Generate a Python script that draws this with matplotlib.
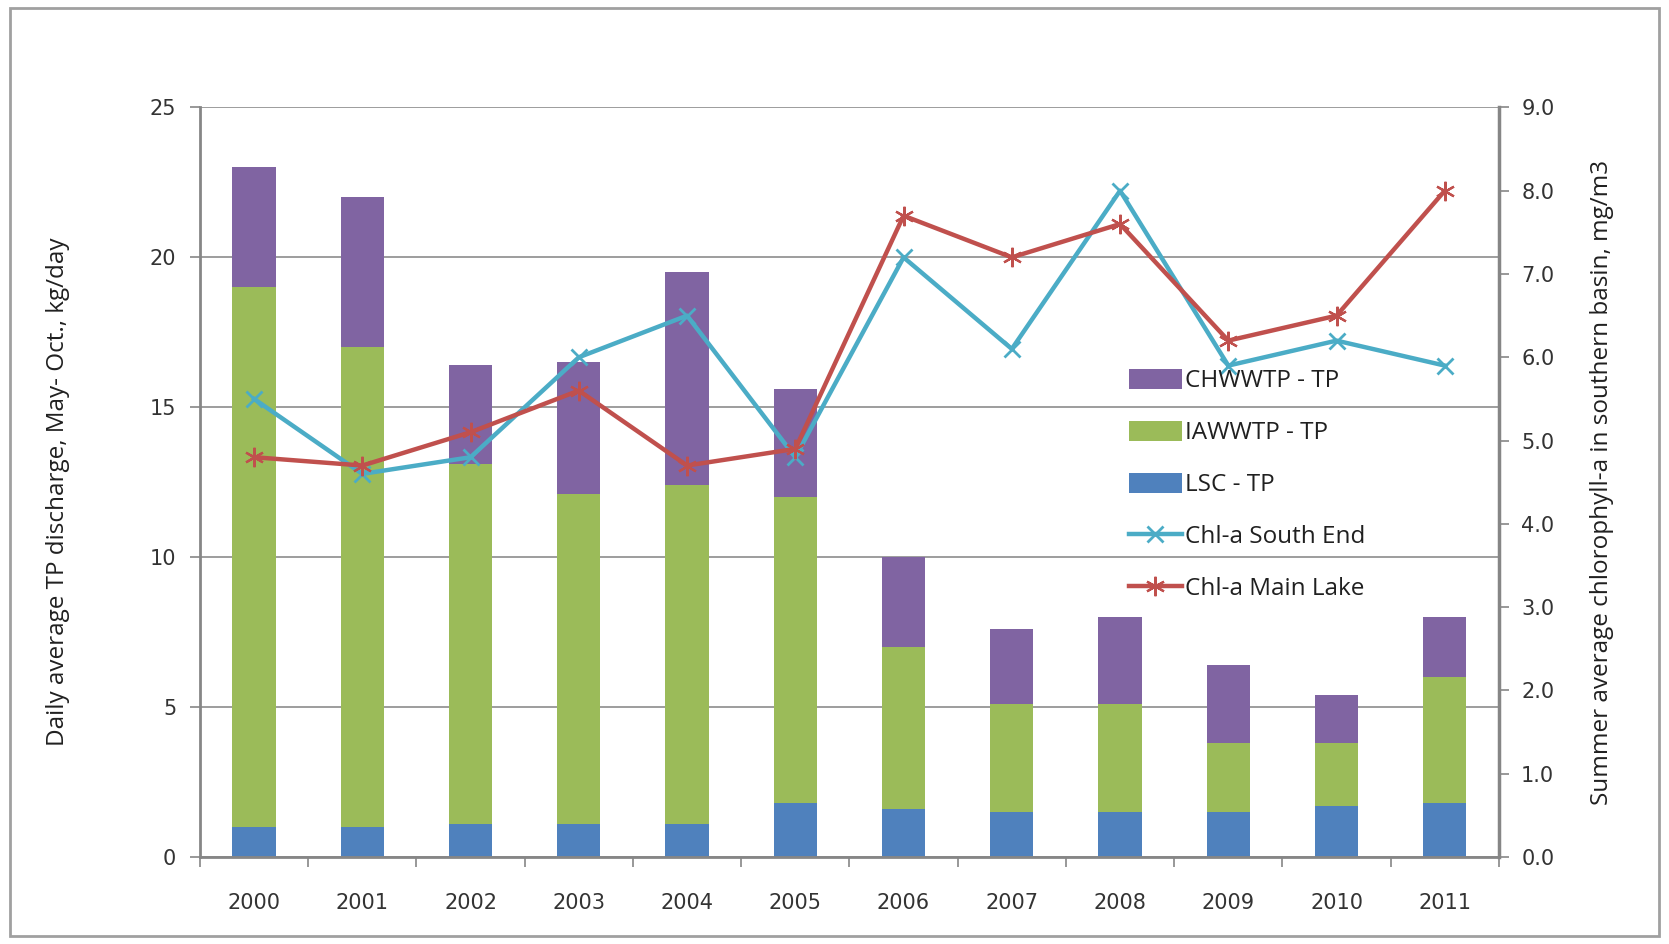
import matplotlib
matplotlib.use("Agg")
import matplotlib.pyplot as plt
import numpy as np
from matplotlib.patches import Rectangle
from matplotlib.ticker import FixedLocator

years = ["2000", "2001", "2002", "2003", "2004", "2005", "2006", "2007", "2008", "2009", "2010", "2011"]
lsc_tp = [1.0, 1.0, 1.1, 1.1, 1.1, 1.8, 1.6, 1.5, 1.5, 1.5, 1.7, 1.8]
iawwtp_tp = [18.0, 16.0, 12.0, 11.0, 11.3, 10.2, 5.4, 3.6, 3.6, 2.3, 2.1, 4.2]
chwwtp_tp = [4.0, 5.0, 3.3, 4.4, 7.1, 3.6, 3.0, 2.5, 2.9, 2.6, 1.6, 2.0]
chl_south = [5.5, 4.6, 4.8, 6.0, 6.5, 4.8, 7.2, 6.1, 8.0, 5.9, 6.2, 5.9]
chl_main = [4.8, 4.7, 5.1, 5.6, 4.7, 4.9, 7.7, 7.2, 7.6, 6.2, 6.5, 8.0]

c_purple = "#8064A2"
c_green = "#9BBB59"
c_blue = "#4F81BD"
c_cyan = "#4BACC6"
c_red = "#C0504D"
c_axis = "#868686"
c_text = "#333333"

plt.rcParams['font.family'] = ['Open Sans', 'DejaVu Sans']

fig = plt.figure(figsize=(16.69, 9.44), dpi=100)
fig.patches.append(Rectangle((0.006, 0.008), 0.988, 0.983, transform=fig.transFigure,
                             fill=False, edgecolor="#a0a0a0", linewidth=2))

ax = fig.add_axes([0.1198, 0.0922, 0.7783, 0.794])
x = np.arange(len(years))
w = 0.4
b1 = ax.bar(x, lsc_tp, w, color=c_blue, label="LSC - TP", zorder=2)
bottom2 = np.array(lsc_tp)
b2 = ax.bar(x, iawwtp_tp, w, bottom=bottom2, color=c_green, label="IAWWTP - TP", zorder=2)
bottom3 = bottom2 + np.array(iawwtp_tp)
b3 = ax.bar(x, chwwtp_tp, w, bottom=bottom3, color=c_purple, label="CHWWTP - TP", zorder=2)

tick_font = dict(family="DejaVu Sans", size=15)

ax.set_xlim(-0.5, len(years) - 0.5)
ax.set_ylim(0, 25)
ax.set_yticks([0, 5, 10, 15, 20, 25])
ax.set_yticklabels(["0", "5", "10", "15", "20", "25"], fontdict=tick_font)
ax.yaxis.grid(True, color="#8c8c8c", linewidth=1.2, zorder=0)
ax.set_axisbelow(True)
ax.set_xticks(x)
ax.set_xticklabels(years, fontdict=tick_font)
ax.xaxis.set_minor_locator(FixedLocator(np.arange(-0.5, len(years), 1.0)))
ax.tick_params(axis="x", which="major", length=0, pad=26, labelcolor=c_text)
ax.tick_params(axis="x", which="minor", length=7, color=c_axis, width=1.2, direction="out")
ax.tick_params(axis="y", length=7, color=c_axis, width=1.2, labelcolor=c_text, pad=10)
ax.spines["top"].set_visible(False)
ax.spines["right"].set_visible(False)
ax.spines["left"].set_color(c_axis)
ax.spines["left"].set_linewidth(2)
ax.spines["bottom"].set_color(c_axis)
ax.spines["bottom"].set_linewidth(2)
ax.set_ylabel("Daily average TP discharge, May- Oct., kg/day", fontsize=17.5, color="#202020",
              va="center", rotation_mode="anchor")
ax.yaxis.set_label_coords(-0.109, 0.487)

ax2 = ax.twinx()
ax2.set_ylim(0, 9.0)
rt = np.arange(0, 9.01, 1.0)
ax2.set_yticks(rt)
ax2.set_yticklabels([f"{v:.1f}" for v in rt], fontdict=tick_font)
ax2.tick_params(axis="y", length=7, color=c_axis, width=1.2, labelcolor=c_text, pad=9)
ax2.spines["top"].set_visible(False)
ax2.spines["left"].set_visible(False)
ax2.spines["bottom"].set_visible(False)
ax2.spines["right"].set_color(c_axis)
ax2.spines["right"].set_linewidth(2.5)
ax2.set_ylabel("Summer average chlorophyll-a in southern basin, mg/m3", fontsize=17.5, color="#202020",
               va="center", rotation_mode="anchor")
ax2.yaxis.set_label_coords(1.0793, 0.5)

l1, = ax2.plot(x, chl_south, color=c_cyan, linewidth=3.2, marker="x", markersize=11,
               markeredgewidth=2, label="Chl-a South End", zorder=3)
l2, = ax2.plot(x, chl_main, color=c_red, linewidth=3.2, marker=(6, 2, 0), markersize=14,
               markeredgewidth=1.6, label="Chl-a Main Lake", zorder=3)

leg = ax2.legend(handles=[b3, b2, b1, l1, l2],
                 labels=["CHWWTP - TP", "IAWWTP - TP", "LSC - TP", "Chl-a South End", "Chl-a Main Lake"],
                 loc="upper left", bbox_to_anchor=(0.715, 0.651), frameon=False,
                 prop=dict(size=17.5),
                 labelspacing=1.13, handlelength=2.2, handleheight=0.9,
                 handletextpad=0.12, borderaxespad=0, borderpad=0)
for t in leg.get_texts():
    t.set_color("#202020")

fig.savefig("out.png", dpi=100)
